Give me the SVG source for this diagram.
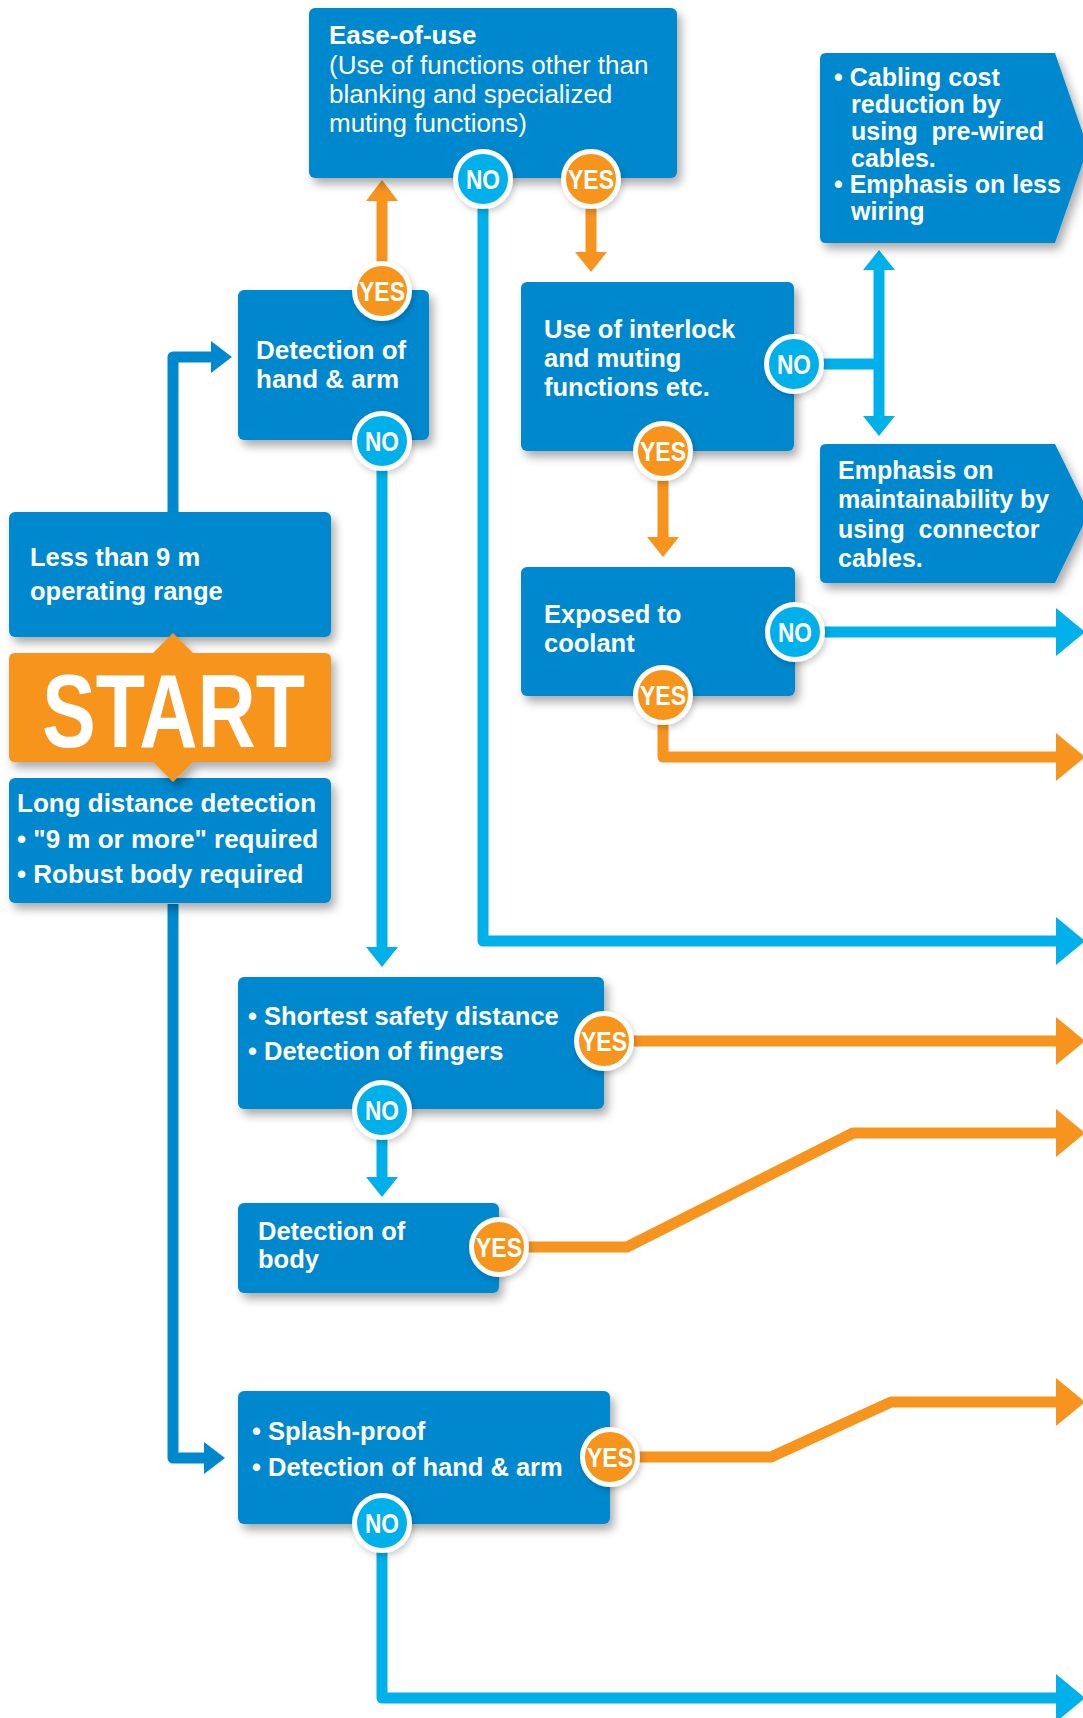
<svg xmlns="http://www.w3.org/2000/svg" width="1083" height="1718" viewBox="0 0 1083 1718">
<defs>
<filter id="sh" x="-10%" y="-10%" width="125%" height="130%">
<feDropShadow dx="4" dy="6" stdDeviation="5" flood-color="#000" flood-opacity="0.33"/>
</filter>
<filter id="csh" x="-30%" y="-30%" width="160%" height="160%">
<feDropShadow dx="2" dy="3" stdDeviation="3" flood-color="#000" flood-opacity="0.2"/>
</filter>
</defs>
<style>
.box{fill:#0088CE;filter:url(#sh)}
.start{fill:#F7941E;filter:url(#sh)}
.t{font-family:"Liberation Sans",Arial,Helvetica,sans-serif;font-weight:bold;font-size:25.5px;fill:#fff}
.tr{font-family:"Liberation Sans",Arial,Helvetica,sans-serif;font-weight:normal;font-size:26px;fill:#fff}
.lb{fill:none;stroke:#00B0EA;stroke-width:11;stroke-linejoin:round}
.db{fill:none;stroke:#0088CE;stroke-width:11;stroke-linejoin:round}
.or{fill:none;stroke:#F7941E;stroke-width:11;stroke-linejoin:round}
.lbh{fill:#00B0EA}
.dbh{fill:#0088CE}
.orh{fill:#F7941E}
.yes{fill:#F7941E;stroke:#fff;stroke-width:5;filter:url(#csh)}
.no{fill:#00B0EA;stroke:#fff;stroke-width:5;filter:url(#csh)}
.ct{font-family:"Liberation Sans",Arial,Helvetica,sans-serif;font-weight:bold;font-size:28px;fill:#fff;text-anchor:middle}
.st{font-family:"Liberation Sans",Arial,Helvetica,sans-serif;font-weight:bold;font-size:103px;fill:#fff}
</style>
<rect width="1083" height="1718" fill="#fff"/>

<g id="connectors">
<path class="db" d="M173,512 V357 H214"/>
<polygon class="dbh" points="211,341 232,357 211,373"/>
<path class="db" d="M173,904 V1458 H207"/>
<polygon class="dbh" points="204,1442 225,1458 204,1474"/>
<path class="or" d="M382,291 V198"/>
<polygon class="orh" points="366,201 382,180 398,201"/>
<path class="lb" d="M483,179 V941 H1060"/>
<polygon class="lbh" points="1056,917 1085,941 1056,965"/>
<path class="or" d="M591,179 V255"/>
<polygon class="orh" points="575,252 591,272 607,252"/>
<path class="lb" d="M794,364 H879"/>
<path class="lb" d="M879,268 V418"/>
<polygon class="lbh" points="863,270 879,250 895,270"/>
<polygon class="lbh" points="863,416 879,436 895,416"/>
<path class="or" d="M663,451 V540"/>
<polygon class="orh" points="647,537 663,557 679,537"/>
<path class="lb" d="M795,632 H1060"/>
<polygon class="lbh" points="1056,608 1085,632 1056,656"/>
<path class="or" d="M663,695 V757 H1060"/>
<polygon class="orh" points="1056,733 1085,757 1056,781"/>
<path class="lb" d="M382,441 V950"/>
<polygon class="lbh" points="366,947 382,967 398,947"/>
<path class="or" d="M604,1041 H1060"/>
<polygon class="orh" points="1056,1017 1085,1041 1056,1065"/>
<path class="lb" d="M382,1110 V1180"/>
<polygon class="lbh" points="366,1177 382,1197 398,1177"/>
<path class="or" d="M499,1247 H627 L853,1133 H1060"/>
<polygon class="orh" points="1056,1109 1085,1133 1056,1157"/>
<path class="or" d="M610,1457 H771 L891,1402 H1060"/>
<polygon class="orh" points="1056,1378 1085,1402 1056,1426"/>
<path class="lb" d="M382,1523 V1698 H1060"/>
<polygon class="lbh" points="1056,1674 1085,1698 1056,1722"/>
</g>

<g id="node-ease">
<rect class="box" x="309" y="8" width="368" height="170" rx="6"/>
<text class="t" x="329" y="44" style="font-size:26px">Ease-of-use</text>
<text class="tr" x="329" y="74">(Use of functions other than</text>
<text class="tr" x="329" y="103">blanking and specialized</text>
<text class="tr" x="329" y="132">muting functions)</text>
<circle class="no" cx="483" cy="179" r="27.5"/>
<text class="ct" x="483" y="189" textLength="34" lengthAdjust="spacingAndGlyphs">NO</text>
<circle class="yes" cx="591" cy="179" r="27.5"/>
<text class="ct" x="591" y="189" textLength="46" lengthAdjust="spacingAndGlyphs">YES</text>
</g>

<g id="node-hand-arm">
<rect class="box" x="238" y="290" width="191" height="150" rx="6"/>
<text class="t" x="256" y="359" style="font-size:26px">Detection of</text>
<text class="t" x="256" y="388" style="font-size:26px">hand &amp; arm</text>
<circle class="yes" cx="382" cy="291" r="27.5"/>
<text class="ct" x="382" y="301" textLength="46" lengthAdjust="spacingAndGlyphs">YES</text>
<circle class="no" cx="382" cy="441" r="27.5"/>
<text class="ct" x="382" y="451" textLength="34" lengthAdjust="spacingAndGlyphs">NO</text>
</g>

<g id="node-interlock">
<rect class="box" x="521" y="282" width="273" height="169" rx="6"/>
<text class="t" x="544" y="338">Use of interlock</text>
<text class="t" x="544" y="367">and muting</text>
<text class="t" x="544" y="396">functions etc.</text>
<circle class="no" cx="794" cy="364" r="27.5"/>
<text class="ct" x="794" y="374" textLength="34" lengthAdjust="spacingAndGlyphs">NO</text>
<circle class="yes" cx="663" cy="451" r="27.5"/>
<text class="ct" x="663" y="461" textLength="46" lengthAdjust="spacingAndGlyphs">YES</text>
</g>

<g id="node-cabling">
<path class="box" d="M826,53 H1055 L1088,148 L1055,243 H826 Q820,243 820,237 V59 Q820,53 826,53 Z"/>
<text class="t" x="834" y="86" style="font-size:25px">• Cabling cost</text>
<text class="t" x="851" y="113" style="font-size:25px">reduction by</text>
<text class="t" x="851" y="140" style="font-size:25px" xml:space="preserve">using  pre-wired</text>
<text class="t" x="851" y="167" style="font-size:25px">cables.</text>
<text class="t" x="834" y="193" style="font-size:25px">• Emphasis on less</text>
<text class="t" x="851" y="220" style="font-size:25px">wiring</text>
</g>

<g id="node-maintainability">
<path class="box" d="M826,444 H1055 L1089,513 L1055,583 H826 Q820,583 820,577 V450 Q820,444 826,444 Z"/>
<text class="t" x="838" y="479" style="font-size:25px">Emphasis on</text>
<text class="t" x="838" y="508" style="font-size:25px">maintainability by</text>
<text class="t" x="838" y="538" style="font-size:25px" xml:space="preserve">using  connector</text>
<text class="t" x="838" y="567" style="font-size:25px">cables.</text>
</g>

<g id="node-coolant">
<rect class="box" x="521" y="567" width="274" height="129" rx="6"/>
<text class="t" x="544" y="623">Exposed to</text>
<text class="t" x="544" y="652">coolant</text>
<circle class="no" cx="795" cy="632" r="27.5"/>
<text class="ct" x="795" y="642" textLength="34" lengthAdjust="spacingAndGlyphs">NO</text>
<circle class="yes" cx="663" cy="695" r="27.5"/>
<text class="ct" x="663" y="705" textLength="46" lengthAdjust="spacingAndGlyphs">YES</text>
</g>

<g id="node-less-than-9m">
<rect class="box" x="9" y="512" width="322" height="125" rx="6"/>
<text class="t" x="30" y="566">Less than 9 m</text>
<text class="t" x="30" y="600">operating range</text>
</g>

<g id="node-long-distance">
<rect class="box" x="9" y="778" width="322" height="125" rx="6"/>
<text class="t" x="17" y="812" style="font-size:26px">Long distance detection</text>
<text class="t" x="17" y="848" style="font-size:26px">• "9 m or more" required</text>
<text class="t" x="17" y="883" style="font-size:26px">• Robust body required</text>
</g>

<g id="node-start">
<path class="start" d="M15,653 H153 L173,633 L193,653 H325 Q331,653 331,659 V756 Q331,762 325,762 H193 L173,782 L153,762 H15 Q9,762 9,756 V659 Q9,653 15,653 Z"/>
<text class="st" x="42" y="747" textLength="263" lengthAdjust="spacingAndGlyphs">START</text>
</g>

<g id="node-shortest">
<rect class="box" x="238" y="977" width="366" height="132" rx="6"/>
<text class="t" x="248" y="1025">• Shortest safety distance</text>
<text class="t" x="248" y="1060">• Detection of fingers</text>
<circle class="yes" cx="604" cy="1041" r="27.5"/>
<text class="ct" x="604" y="1051" textLength="46" lengthAdjust="spacingAndGlyphs">YES</text>
<circle class="no" cx="382" cy="1110" r="27.5"/>
<text class="ct" x="382" y="1120" textLength="34" lengthAdjust="spacingAndGlyphs">NO</text>
</g>

<g id="node-body">
<rect class="box" x="238" y="1203" width="261" height="90" rx="6"/>
<text class="t" x="258" y="1240">Detection of</text>
<text class="t" x="258" y="1268">body</text>
<circle class="yes" cx="499" cy="1247" r="27.5"/>
<text class="ct" x="499" y="1257" textLength="46" lengthAdjust="spacingAndGlyphs">YES</text>
</g>

<g id="node-splash">
<rect class="box" x="238" y="1391" width="372" height="133" rx="6"/>
<text class="t" x="252" y="1440">• Splash-proof</text>
<text class="t" x="252" y="1476">• Detection of hand &amp; arm</text>
<circle class="yes" cx="610" cy="1457" r="27.5"/>
<text class="ct" x="610" y="1467" textLength="46" lengthAdjust="spacingAndGlyphs">YES</text>
<circle class="no" cx="382" cy="1523" r="27.5"/>
<text class="ct" x="382" y="1533" textLength="34" lengthAdjust="spacingAndGlyphs">NO</text>
</g>
</svg>
